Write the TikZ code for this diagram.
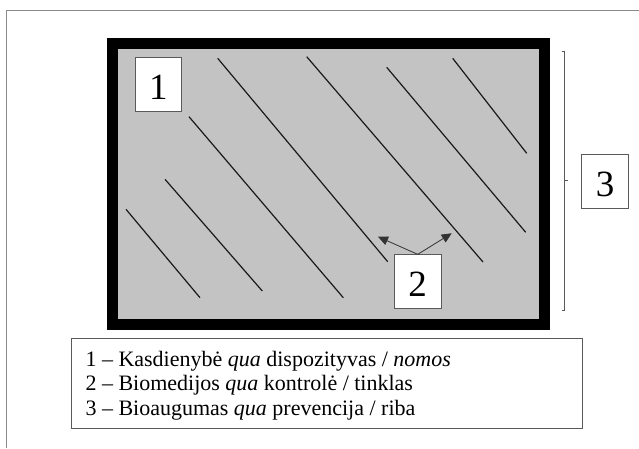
\documentclass[tikz,border=0pt]{standalone}
\usepackage{fontspec}
\setmainfont{Liberation Serif}
\usetikzlibrary{arrows.meta}

\definecolor{fieldgray}{HTML}{C3C3C3}
\definecolor{framegray}{HTML}{8A8A8A}
\definecolor{boxedge}{HTML}{5A5A5A}

\tikzset{
  numbox/.style={draw=boxedge, line width=0.9pt, fill=white, inner sep=0pt,
    minimum width=46.5pt, minimum height=54pt,
    text height=30pt, text depth=0pt,
    font=\fontsize{37pt}{37pt}\selectfont},
  hatch/.style={line width=1.2pt, draw=black!90},
  pointer/.style={draw=black!80, line width=0.8pt,
    -{Triangle[length=10pt,width=9pt]}},
  legendline/.style={anchor=base west, inner sep=0pt,
    font=\fontsize{22pt}{25pt}\selectfont},
  bracket/.style={draw=black!65, line width=0.9pt}
}

\begin{document}
\begin{tikzpicture}[x=1pt,y=-1pt]
  \useasboundingbox (0,0) rectangle (639,448);
  \fill[white] (0,0) rectangle (639,448);

  % outer page frame (top and left edges)
  \draw[framegray, line width=1pt] (6.7,448) -- (6.7,10.7) -- (639,10.7);

  % thick black frame with grey field
  \fill[black] (106.7,37.7) rectangle (550,330);
  \fill[fieldgray] (118.3,49) rectangle (539.3,319.3);

  % diagonal hatch lines
  \draw[hatch] (126,209.3) -- (200,297.7);
  \draw[hatch] (165,179.3) -- (262.3,291);
  \draw[hatch] (189,116.7) -- (343.3,297.7);
  \draw[hatch] (217.7,58.3) -- (387.7,261.7);
  \draw[hatch] (306.7,56.7) -- (483,262);
  \draw[hatch] (386.7,67.3) -- (525.7,232.3);
  \draw[hatch] (452.7,58.3) -- (526.7,153.3);

  % numbered boxes
  \node[numbox] (one)   at (158.3,84.3)  {1};
  \node[numbox] (two)   at (417.7,281.8) {2};
  \node[numbox] (three) at (605,181.5)   {3};

  % pointers from box 2 to neighbouring lines
  \coordinate (tipL) at (378,236.7);
  \coordinate (tipR) at (451.7,233.3);
  \draw[pointer] (two.north) -- (tipL);
  \draw[pointer] (two.north) -- (tipR);

  % brace-like bracket to the right of the frame
  \coordinate (brTop) at (561.5,51.7);
  \coordinate (brBot) at (561.5,310.7);
  \coordinate (brMid) at (564.5,180.7);
  \draw[bracket] (brTop) -- (564.5,51.7) -- (564.5,310.7) -- (brBot);
  \draw[bracket] (brMid) -- ++(3,0);

  % legend
  \draw[boxedge, line width=0.9pt] (71,338.7) rectangle (582.3,428.3);
  \node[legendline] (l1) at (85.3,366)   {1 – Kasdienybė \textit{qua} dispozityvas / \textit{nomos}};
  \node[legendline] (l2) at (85.3,390.7) {2 – Biomedijos \textit{qua} kontrolė / tinklas};
  \node[legendline] (l3) at (85.3,415.7) {3 – Bioaugumas \textit{qua} prevencija / riba};
\end{tikzpicture}
\end{document}
